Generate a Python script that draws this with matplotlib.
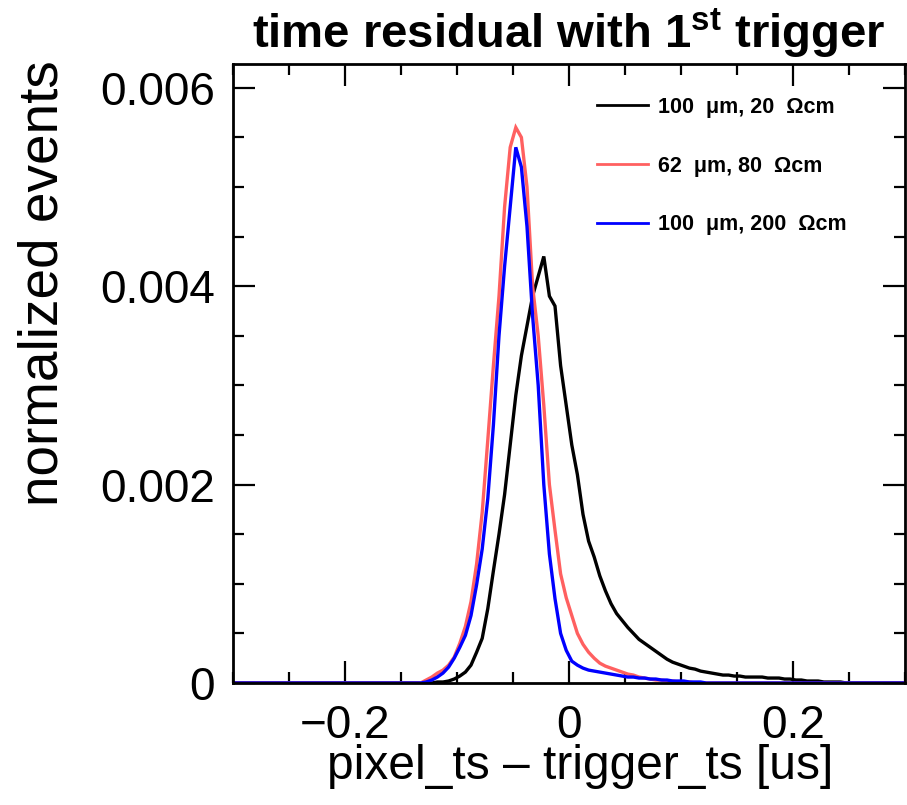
import numpy as np
import matplotlib
matplotlib.use("Agg")
import matplotlib.pyplot as plt
from matplotlib.ticker import MultipleLocator, FixedLocator, FuncFormatter

plt.rcParams['font.family'] = ['Liberation Sans', 'DejaVu Sans']
plt.rcParams['mathtext.fontset'] = 'custom'
plt.rcParams['mathtext.rm'] = 'Liberation Sans'
plt.rcParams['mathtext.bf'] = 'Liberation Sans:bold'

# histogram binning: 0.005 wide bins from -0.3 to 0.3
x_min, x_max, bin_w = -0.3, 0.3, 0.005
first_filled = -0.13   # values below start at this edge

labels = ["100  \u03bcm, 20  \u03a9cm", "62  \u03bcm, 80  \u03a9cm", "100  \u03bcm, 200  \u03a9cm"]
colors = ["black", "#ff6060", "#0000ff"]

# bin contents, starting at -0.13
h_100_20 = [0, 0, 0.00001, 0.00001, 0.00002, 0.00004, 0.00007, 0.00011, 0.00018, 0.00031,
            0.00045, 0.00075, 0.00113, 0.0015, 0.0019, 0.0024, 0.0029, 0.0033, 0.0036, 0.0039,
            0.0041, 0.0043, 0.0039, 0.0038, 0.0032, 0.0028, 0.0024, 0.0021, 0.0017, 0.00143,
            0.00127, 0.00108, 0.00093, 0.0008, 0.0007, 0.00063, 0.00056, 0.0005, 0.00044, 0.0004,
            0.00036, 0.00032, 0.00028, 0.00024, 0.00021, 0.00019, 0.00017, 0.00015, 0.00014, 0.00012,
            0.00011, 0.0001, 0.00009, 0.00008, 0.00008, 0.00007, 0.00007, 0.00006, 0.00006, 0.00006,
            0.00006, 0.00005, 0.00005, 0.00005, 0.00004, 0.00004, 0.00003, 0.00003, 0.00002, 0.00002,
            0.00002, 0.00001, 0.00001, 0.00001, 0.00001, 0]

h_62_80 = [0.00003, 0.00006, 0.0001, 0.00013, 0.00018, 0.00026, 0.0004, 0.00057, 0.00082, 0.0012,
           0.00172, 0.00245, 0.0032, 0.0039, 0.0048, 0.0054, 0.0056, 0.0055, 0.005, 0.004,
           0.0035, 0.0028, 0.002, 0.00154, 0.0011, 0.00086, 0.00068, 0.0005, 0.00039, 0.00031,
           0.00025, 0.0002, 0.00017, 0.00015, 0.00013, 0.00011, 0.00009, 0.00008, 0.00006, 0.00005,
           0.00004, 0.00003, 0.00003, 0.00002, 0.00002, 0.00001, 0.00001, 0.00001]

h_100_200 = [0.00001, 0.00003, 0.00006, 0.0001, 0.00016, 0.00025, 0.00036, 0.00048, 0.00068, 0.00099,
             0.00135, 0.00186, 0.0026, 0.0035, 0.0042, 0.0048, 0.0054, 0.0052, 0.0046, 0.0037,
             0.003, 0.002, 0.0013, 0.00085, 0.0005, 0.00033, 0.00022, 0.00018, 0.00015, 0.00013,
             0.00012, 0.00011, 0.0001, 0.00009, 0.00008, 0.00007, 0.00006, 0.00006, 0.00005, 0.00005,
             0.00004, 0.00004, 0.00003, 0.00003, 0.00002, 0.00002, 0.00002, 0.00001, 0.00001, 0.00001]

edges = np.linspace(x_min, x_max, int(round((x_max - x_min) / bin_w)) + 1)
centers = 0.5 * (edges[:-1] + edges[1:])
n_bins = len(centers)
lead = int(round((first_filled - x_min) / bin_w))


def full(vals):
    out = np.zeros(n_bins)
    out[lead:lead + len(vals)] = vals
    return out


fig = plt.figure(figsize=(9.07, 8.05), dpi=100)
ax = fig.add_axes([233 / 907, 122 / 805, 672 / 907, 619 / 805])

for h, c, lab in zip([h_100_20, h_62_80, h_100_200], colors, labels):
    y = full(h)
    # fine-binned histogram drawn as a line through the bin centres, flat out to the edges
    xs = np.concatenate([[x_min], centers, [x_max]])
    ys = np.concatenate([[y[0]], y, [y[-1]]])
    ax.plot(xs, ys, color=c, linewidth=2.4, label=lab, solid_joinstyle='miter')

ax.set_xlim(x_min, x_max)
ax.set_ylim(0, 0.00624)

ax.xaxis.set_major_locator(FixedLocator([-0.2, 0, 0.2]))
ax.xaxis.set_minor_locator(MultipleLocator(0.05))
ax.yaxis.set_major_locator(MultipleLocator(0.002))
ax.yaxis.set_minor_locator(MultipleLocator(0.0005))
ax.xaxis.set_major_formatter(FuncFormatter(lambda v, p: "0" if abs(v) < 1e-9 else ("\u2212%.1f" % -v if v < 0 else "%.1f" % v)))
ax.yaxis.set_major_formatter(FuncFormatter(lambda v, p: "0" if abs(v) < 1e-12 else "%.3f" % v))

ax.tick_params(which='both', direction='in', top=True, right=True, width=1.6,
               labelsize=33)
ax.tick_params(which='major', length=16)
ax.tick_params(which='minor', length=8)
ax.tick_params(axis='x', pad=15)
ax.tick_params(axis='y', pad=13)
for s in ax.spines.values():
    s.set_linewidth(2)

ax.set_xlabel("pixel_ts \u2013 trigger_ts [us]", fontsize=34.5, loc='right')
ax.xaxis.set_label_coords(0.893, -0.098)
ax.xaxis.label.set_va('top')
ax.set_ylabel("normalized events", fontsize=39.5, loc='top')
ax.yaxis.set_label_coords(-0.2426, 1.006)
ax.set_title(r"time residual with 1$^{\mathbf{st}}$ trigger", fontsize=34,
             fontweight='bold', pad=12)

leg = ax.legend(loc='upper left', bbox_to_anchor=(597 / 907, 1 - 97 / 805),
                bbox_transform=fig.transFigure, frameon=False,
                prop={'weight': 'bold', 'size': 15.5}, handlelength=2.35,
                labelspacing=1.75, handletextpad=0.5, borderpad=0, borderaxespad=0)
for ln in leg.get_lines():
    ln.set_linewidth(2.0)

fig.savefig("out.png", dpi=100)
